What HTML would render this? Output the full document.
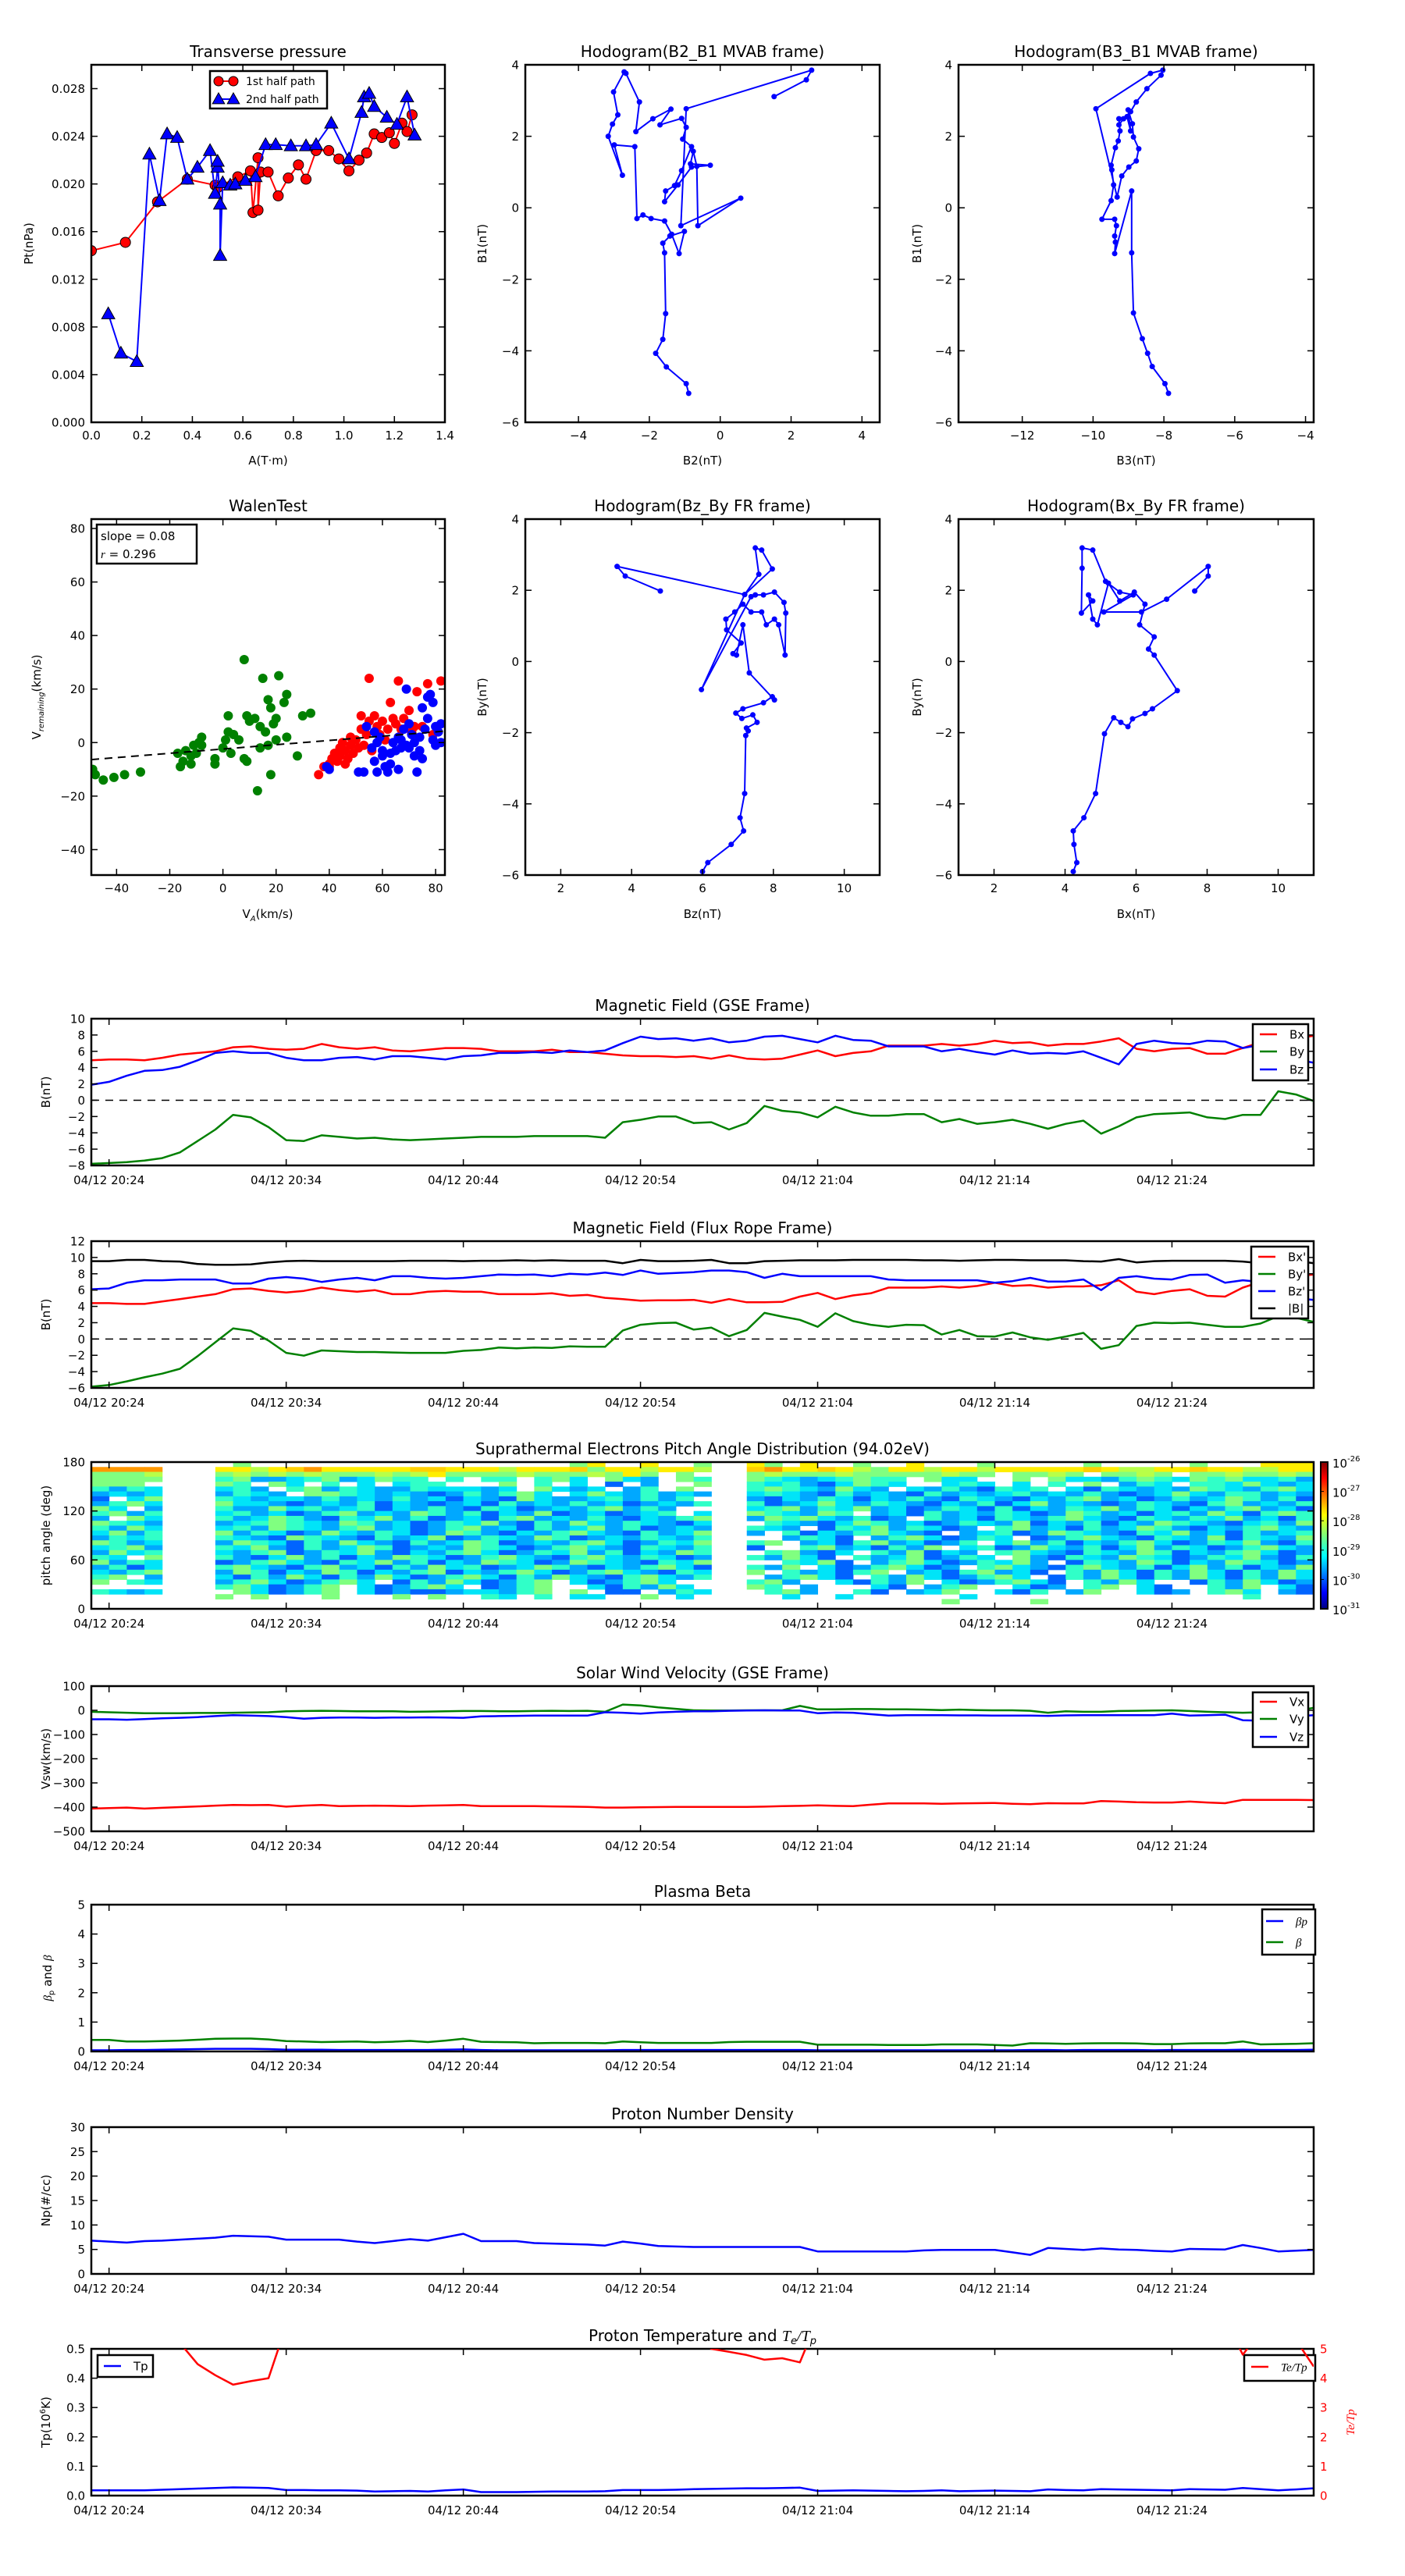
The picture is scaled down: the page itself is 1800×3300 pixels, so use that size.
<!DOCTYPE html>
<html><head><meta charset="utf-8">
<style>
html,body{margin:0;padding:0;background:#fff;}
svg{display:block;font-family:"DejaVu Sans","Liberation Sans",sans-serif;}
</style></head>
<body>
<svg id="chart" xmlns="http://www.w3.org/2000/svg" width="1800" height="3300" viewBox="0 0 1800 3300">
<defs>
<linearGradient id="jet" x1="0" y1="1" x2="0" y2="0">
<stop offset="0" stop-color="#00007f"/><stop offset="0.11" stop-color="#0000ff"/><stop offset="0.36" stop-color="#00ffff"/><stop offset="0.5" stop-color="#7dff7a"/><stop offset="0.64" stop-color="#ffff00"/><stop offset="0.89" stop-color="#ff0000"/><stop offset="1" stop-color="#7f0000"/>
</linearGradient>
</defs>
<rect x="0" y="0" width="1800" height="3300" fill="#fff"/>
</svg>
<script>
// ---------- data ----------
const presA1=[0,0.135,0.262,0.38,0.49,0.50,0.58,0.63,0.64,0.66,0.66,0.67,0.70,0.74,0.78,0.82,0.85,0.89,0.94,0.98,1.02,1.06,1.09,1.12,1.15,1.18,1.20,1.23,1.25,1.27];
const presP1=[0.0144,0.0151,0.0185,0.0204,0.0199,0.0197,0.0206,0.0211,0.0176,0.0222,0.0178,0.0210,0.0210,0.0190,0.0205,0.0216,0.0204,0.0228,0.0228,0.0221,0.0211,0.0220,0.0226,0.0242,0.0239,0.0243,0.0234,0.0251,0.0244,0.0258];
const presA2=[0.067,0.117,0.18,0.23,0.27,0.30,0.34,0.38,0.42,0.47,0.49,0.50,0.50,0.51,0.51,0.52,0.55,0.57,0.61,0.65,0.69,0.73,0.79,0.85,0.89,0.95,1.02,1.07,1.08,1.10,1.12,1.17,1.21,1.25,1.28];
const presP2=[0.0091,0.0058,0.0051,0.0225,0.0186,0.0242,0.0239,0.0204,0.0214,0.0228,0.0192,0.0214,0.0219,0.0183,0.0140,0.0201,0.0199,0.0200,0.0203,0.0206,0.0233,0.0233,0.0232,0.0232,0.0233,0.0251,0.0221,0.0260,0.0273,0.0276,0.0265,0.0256,0.0250,0.0273,0.0241];

const h1B2=[-0.89,-0.96,-1.52,-1.82,-1.62,-1.54,-1.57,-1.62,-1.42,-1.01,-1.16,-1.37,-1.57,-1.95,-2.18,-2.35,-2.41,-2.99,-2.76,-3.16,-3.04,-2.89,-3.01,-2.71,-2.66,-2.28,-2.38,-1.90,-1.39,-1.70,-1.09,-0.96,-1.06,-0.81,-1.09,-1.29,-1.54,-1.57,-1.19,-0.81,-0.28,-0.84,-0.76,-0.66,-0.63,0.58,-1.11,-0.96,2.58,2.43,1.52];
const h1B1=[-5.19,-4.92,-4.45,-4.07,-3.68,-2.96,-1.26,-0.99,-0.79,-0.66,-1.28,-0.74,-0.37,-0.30,-0.20,-0.30,1.71,1.76,0.91,2.0,2.34,2.6,3.24,3.80,3.76,2.96,2.13,2.49,2.76,2.32,2.50,2.25,1.92,1.71,1.04,0.62,0.47,0.17,0.64,1.14,1.19,1.23,1.58,1.16,-0.50,0.27,-0.50,2.77,3.85,3.58,3.11];
const h2B3=[-7.87,-7.97,-8.33,-8.46,-8.61,-8.86,-8.91,-8.91,-9.39,-9.37,-9.39,-9.34,-9.39,-9.75,-9.49,-9.42,-9.47,-9.49,-9.37,-9.29,-9.24,-9.27,-9.04,-8.94,-9.01,-8.89,-8.86,-8.71,-8.78,-8.99,-9.19,-9.32,-9.92,-8.38,-8.03,-8.08,-8.48,-8.78,-8.94,-9.14,-9.27];
const h2B1=[-5.19,-4.92,-4.44,-4.07,-3.66,-2.94,-1.26,0.47,-1.28,-0.96,-0.79,-0.50,-0.32,-0.32,0.2,0.64,1.06,1.19,1.68,1.87,2.15,2.49,2.55,2.15,2.74,2.35,1.98,1.65,1.31,1.14,0.89,0.3,2.77,3.76,3.85,3.71,3.33,2.96,2.69,2.49,2.32];
const h3Bz=[6.0,6.15,6.81,7.16,7.06,7.19,7.22,7.29,7.24,7.54,7.42,7.11,6.94,7.14,7.72,7.97,8.03,7.32,7.14,6.96,6.86,7.09,6.68,6.66,6.91,7.14,7.37,7.67,7.80,8.03,8.15,8.33,8.35,8.30,8.03,7.72,7.49,7.37,5.97,7.19,7.59,7.49,7.67,7.97,7.19,3.59,3.82,4.81];
const h3By=[-5.9,-5.65,-5.14,-4.76,-4.39,-3.71,-2.08,-1.95,-1.87,-1.71,-1.5,-1.6,-1.45,-1.33,-1.16,-0.99,-1.08,-0.32,1.03,0.18,0.22,0.52,0.89,1.19,1.39,1.61,1.39,1.39,1.03,1.19,1.03,0.18,1.36,1.66,1.95,1.87,1.87,1.82,-0.79,1.88,2.45,3.19,3.13,2.6,1.88,2.67,2.40,1.98];
const h4Bx=[4.23,4.33,4.25,4.23,4.53,4.86,5.11,5.37,5.57,5.77,5.90,6.25,6.46,7.16,6.51,6.35,6.51,6.10,6.25,5.95,5.54,5.22,4.91,4.78,4.66,4.78,4.46,4.48,4.48,4.78,5.14,5.54,5.92,5.09,6.15,6.86,8.03,8.03,7.65];
const h4By=[-5.9,-5.65,-5.14,-4.76,-4.39,-3.71,-2.03,-1.58,-1.71,-1.83,-1.61,-1.46,-1.33,-0.82,0.18,0.35,0.69,1.03,1.61,1.95,1.70,2.2,1.03,1.19,1.87,1.7,1.36,2.62,3.19,3.13,2.25,1.95,1.87,1.39,1.39,1.75,2.67,2.40,1.98];

const walGx=[-49,-48,-45,-41,-37,-31,-17,-16,-15,-14,-12,-12,-11,-10,-9,-8,-8,-3,-3,0,1,2,2,3,4,6,8,9,9,10,12,13,14,14,15,16,17,17,18,18,19,20,20,21,23,24,24,28,30,33,8];
const walGy=[-10,-12,-14,-13,-12,-11,-4,-9,-7,-3,-8,-5,-1,-4,0,2,-1,-6,-8,-2,1,4,10,-4,3,1,-6,10,-7,8,9,-18,-2,6,24,4,-1,16,13,-12,7,1,9,25,15,2,18,-5,10,11,31];
const walRx=[36,38,40,41,42,43,44,44,45,46,47,48,48,49,50,51,52,52,53,54,55,55,56,57,58,59,60,61,62,63,64,65,66,67,68,70,71,72,73,75,77,79,82,40,46];
const walRy=[-12,-9,-8,-6,-4,-7,-2,-5,0,-3,-6,-1,2,-4,1,-2,5,10,-1,3,8,24,-3,10,6,3,8,1,5,15,9,7,23,5,9,12,4,6,19,6,22,3,23,-9,-8];
const walBx=[39,40,51,53,54,56,57,58,58,59,60,61,62,63,64,65,66,67,68,69,69,70,71,72,73,74,75,75,76,77,77,78,79,79,80,80,81,82,82,57,60,63,67,70,74,66,72];
const walBy=[-9,-10,-11,-11,6,-2,-7,-11,0,2,-5,-9,-11,-4,0,-3,-10,1,5,-1,20,-2,3,0,-11,2,-6,13,5,9,17,18,1,15,6,-1,4,7,0,4,-3,-8,-2,7,-3,2,-5];
const walSlope=0.08, walIntercept=-2.4;

const tickMin=[1,11,21,31,41,51,61];
const tickLbl=['04/12 20:24','04/12 20:34','04/12 20:44','04/12 20:54','04/12 21:04','04/12 21:14','04/12 21:24'];

const gseBx=[4.9,5.0,5.0,4.9,5.2,5.6,5.8,6.0,6.5,6.6,6.3,6.2,6.3,6.9,6.5,6.3,6.5,6.1,6.0,6.2,6.4,6.4,6.3,6.0,6.0,6.0,6.2,5.9,5.9,5.7,5.5,5.4,5.4,5.3,5.4,5.1,5.5,5.1,5.0,5.1,5.6,6.1,5.4,5.8,6.0,6.7,6.7,6.7,6.9,6.7,6.9,7.3,7.0,7.1,6.7,6.9,6.9,7.2,7.6,6.3,6.0,6.3,6.4,5.7,5.7,6.4,7.1,7.5,7.6,7.9];
const gseBy=[-7.8,-7.7,-7.6,-7.4,-7.1,-6.4,-5.0,-3.6,-1.8,-2.1,-3.3,-4.9,-5.0,-4.3,-4.5,-4.7,-4.6,-4.8,-4.9,-4.8,-4.7,-4.6,-4.5,-4.5,-4.5,-4.4,-4.4,-4.4,-4.4,-4.6,-2.7,-2.4,-2.0,-2.0,-2.8,-2.7,-3.6,-2.8,-0.7,-1.3,-1.5,-2.1,-0.8,-1.5,-1.9,-1.9,-1.7,-1.7,-2.7,-2.3,-2.9,-2.7,-2.4,-2.9,-3.5,-2.9,-2.5,-4.1,-3.2,-2.1,-1.7,-1.6,-1.5,-2.1,-2.3,-1.8,-1.8,1.1,0.7,-0.1];
const gseBz=[1.9,2.25,3.0,3.6,3.7,4.1,4.9,5.8,6.0,5.8,5.8,5.2,4.9,4.9,5.2,5.3,5.0,5.4,5.4,5.2,5.0,5.4,5.5,5.8,5.8,5.9,5.8,6.1,5.9,6.1,7.0,7.8,7.5,7.6,7.3,7.6,7.1,7.3,7.8,7.9,7.5,7.1,7.9,7.4,7.3,6.6,6.6,6.6,6.0,6.3,5.9,5.6,6.1,5.7,5.8,5.7,6.0,5.2,4.4,6.9,7.3,7.0,6.9,7.3,7.2,6.4,6.8,6.5,5.0,4.6];

const frBx=[4.4,4.4,4.3,4.3,4.6,4.9,5.2,5.5,6.1,6.2,5.9,5.7,5.9,6.3,6.0,5.8,6.0,5.5,5.5,5.8,5.9,5.8,5.8,5.5,5.5,5.5,5.6,5.3,5.4,5.05,4.9,4.7,4.75,4.75,4.8,4.45,4.9,4.5,4.5,4.55,5.2,5.65,4.9,5.35,5.6,6.3,6.3,6.3,6.45,6.3,6.5,6.9,6.5,6.6,6.3,6.45,6.45,6.6,7.2,5.8,5.5,5.9,6.1,5.3,5.2,6.3,7.0,7.5,7.7,7.9];
const frBy=[-5.85,-5.65,-5.2,-4.7,-4.25,-3.65,-2.1,-0.4,1.3,1.0,-0.2,-1.7,-2.05,-1.4,-1.5,-1.6,-1.6,-1.65,-1.7,-1.7,-1.7,-1.45,-1.35,-1.05,-1.15,-1.05,-1.1,-0.9,-0.95,-0.95,1.05,1.75,1.95,2.0,1.15,1.4,0.35,1.1,3.2,2.75,2.35,1.5,3.15,2.2,1.75,1.5,1.75,1.7,0.55,1.1,0.35,0.3,0.8,0.2,-0.1,0.3,0.75,-1.2,-0.75,1.6,2.0,1.95,2.0,1.75,1.5,1.5,1.9,2.8,2.6,2.1];
const frBz=[6.1,6.2,6.9,7.2,7.2,7.3,7.3,7.3,6.8,6.8,7.4,7.6,7.4,7.0,7.3,7.5,7.2,7.7,7.7,7.5,7.4,7.5,7.7,7.9,7.85,7.9,7.7,8.0,7.9,8.15,7.85,8.4,8.0,8.1,8.2,8.4,8.4,8.2,7.5,8.0,7.7,7.7,7.7,7.7,7.7,7.3,7.2,7.2,7.2,7.2,7.2,6.9,7.1,7.5,7.05,7.05,7.3,6.0,7.5,7.7,7.4,7.3,7.85,7.9,6.9,7.2,7.0,6.5,5.0,4.8];
const frB=[9.55,9.55,9.7,9.7,9.55,9.5,9.2,9.1,9.1,9.15,9.4,9.55,9.6,9.55,9.55,9.55,9.55,9.55,9.6,9.6,9.6,9.55,9.6,9.6,9.65,9.6,9.65,9.6,9.6,9.6,9.3,9.7,9.55,9.55,9.6,9.7,9.3,9.3,9.55,9.6,9.65,9.65,9.65,9.7,9.7,9.7,9.7,9.65,9.65,9.6,9.65,9.7,9.7,9.65,9.65,9.65,9.55,9.5,9.8,9.4,9.55,9.6,9.6,9.6,9.6,9.5,9.3,9.8,9.6,9.3];

// pitch angle distribution: rows from 180 deg downward (6 deg each); segments A|B|C = cols 0-3 | 7-34 | 37-68
const padRows=[
"....|.g..................gy..y..g..|yg.y..g..y...g.....g.....g...yyy",
"oooo|yyGyYoyyyyyYYyyyGyyyYgyyGyyG|YoyyYyGgyyGyyGyyyyyYyGGyyYyyGGyy",
"gggG|gGgGgGgggGgGyggggGgggGgyg.g.|gGgggGgggggGgg.ggGg.ggGg.ggGggGg",
"gggg|tgddctgdcgtt.t.tt.tgc.gcd.gt|gtcdctgtt.gcc..g.gccdtgtcgtgcctd",
"ggg.|gt.gc.t.c.ctt...g.t.c.b.d..g|tctdbcgtc..ctc.c.t.g.dtc.ttcgcdc",
"tdtc|ctd.tgdtcddtcccdc.gcdc.dt.g.|tgtcdgcd.cdtdbtct.cbtcdcdgtcdtgc",
"dcdc|dtcd.ggtcdcdbdtdtgc.cgcdtdcd|ctcdbtdcdbtdcdctdcdtdbdcgcdttdcd",
"b.cg|tcdccdtdcdtdcbcdbgcddctdtdt.|dbcdtcbcdtdbtcdbcdtgdcbdtdcgtdtb",
"dtgc|gccdbdcdtbcdbdcbtdcdtdcbdcdt|tbdcgcdtcdbcdtbcgdcdbdtcdbtgdcdt",
"gc.d|tddgctdctbcdtdbtcbdcdtgdtd..|ctgdtcgdcbdtcbtbcdtcgdtcbcdtgdcb",
"tgdt|ctdcbdtgdcdgtdtbcdgbdcbdct.c|gtcdgt.dcbtdcdtcbdgtdcbctdgcbtgt",
"d.gc|tdcgtdbtcgdtbdcbtgdcdtdbcdtg|dgtgcdtbd.tdcbtcdtgcdbtcdtcgdcbt",
"gtcd|dctgtcdgtdcbdtcgdbtdgcdtcdbc|.tcdbcgtdcbdtcdgbcdtbcdgtcdbctdg",
"tdgc|ctdgtcdtgdcbdtgdcbtdcgdtbdcd|tcd.btcgdtcbd.tgdcbtdcgtdbcdtgcd",
"cgdt|gdtcbdgcdtcbdgtdbcdtgcdbtdcg|d.tbcdtgcdb.dctbdgtcdbtcgdcbtdct",
"dtct|tcdbgtcdbtdcgbdtcdgtbdcdtcdt|..dtcb.dtgcbdtc.bdtgcdbtcdgbtcdg",
"gtdc|dgtcbtdgcdbtdcgtbdcdtgcbdtcg|tg.dcbtgdcbdt.cgdtbcdtgcbdtcgdbt",
"ctgd|tcgdbtdcgtbdcdgtcbdtgcdbtcdt|b..tgdcbtdg.ctbdgcdtbcgdtcbdtgcd",
"dgct|cdtgbdtcgdbcdtgcbdtcgdtbcdgt|.tgdbc.tdgbcd.tgcdbtcdgtbcdtgcbd",
"tc.g|tdbcgdtbcdgtcbdtgcdbtgcdtcbd|tdgcb.tdcgbdtc.gdbtcdgtcbdtcgdbt",
"gdtc|bdtgcdbtcgdtbcdgtcbdgtcdbtcg|..tcgb.dtgcbdtcgd.btcdgtbcdgtcbd",
"dtbc|tgcdbtgdcbtdgctbdcgtdbcdtgcb|tdg.cbdtgcbd.tgcdbtgcdtbcgdtbcdg",
"cdtg|dgtbcdgtbcdtgbcdtgcbdtgcdbtc|g.tdcbtg.dcbtgdcb.tdgcbtdgcbtdgc",
"tg.d|cbtdgcbtdgcbdtgcbtdgcdbtgcdt|.dtgcb.tdgcbdtgc.btdgcbtdgcbtdgc",
"g.tc|dtgcbdtgc.btdgcbdtg.cbdtgc..|tgd..cbtdg.cbdtgcb.tdgc..btdgcbd",
"....|tgcbdtg.cbdtgc.bdtg..cbtdgc.|gt.d...cb.dtg..cbd.tg.cb..tdg.cb",
"tcdc|.gcbdtg.cbdbbdccdtg.g.bb.dtc|.tgd..tb.dcg..cbt.dg..cbd.tgc.db",
"....|g.g...g...g.g..tc.t.cc..g.c.|..c..c......c...............t...",
"....|............................|...........g....g...............",
"....|............................|................................"
];
const padColors={b:'#0064ff',d:'#00a8ff',c:'#00e4f8',t:'#30ffc8',g:'#80ff80',G:'#b8ff48',y:'#ffee00',Y:'#ffd000',o:'#ff9800'};
const cbLabels=['-26','-27','-28','-29','-30','-31'];

const swVx=[-406,-404,-402,-406,-403,-400,-397,-394,-391,-392,-391,-398,-394,-391,-396,-395,-394,-395,-396,-394,-393,-391,-396,-396,-396,-396,-397,-398,-399,-402,-402,-401,-400,-399,-399,-399,-399,-399,-398,-396,-395,-393,-395,-396,-390,-385,-385,-385,-386,-385,-384,-383,-386,-388,-384,-385,-385,-375,-377,-380,-381,-381,-377,-381,-384,-370,-370,-370,-370,-371];
const swVy=[-6,-8,-10,-12,-12,-12,-11,-11,-10,-9,-8,-4,-3,-2,-3,-4,-4,-4,-6,-5,-4,-3,-3,-4,-4,-3,-2,-3,-2,-6,24,20,12,6,0,-1,-1,0,0,0,18,4,4,5,5,4,4,3,1,3,1,0,0,-2,-10,-4,-6,-6,-3,-2,-1,0,-3,-6,-8,-10,-8,-6,-2,10];
const swVz=[-37,-37,-39,-36,-33,-31,-28,-24,-20,-22,-24,-28,-35,-31,-30,-30,-31,-30,-30,-29,-30,-31,-25,-24,-23,-22,-22,-22,-22,-8,-10,-14,-9,-6,-4,-4,-2,-1,0,-1,-1,-12,-9,-10,-16,-22,-20,-20,-20,-21,-21,-22,-22,-22,-23,-21,-20,-20,-20,-20,-20,-14,-22,-20,-18,-41,-43,-30,-25,-20];

const betaP=[0.04,0.04,0.05,0.05,0.06,0.07,0.08,0.09,0.09,0.09,0.08,0.06,0.06,0.06,0.05,0.05,0.05,0.05,0.05,0.05,0.06,0.07,0.05,0.04,0.04,0.04,0.04,0.04,0.04,0.04,0.05,0.05,0.05,0.05,0.05,0.05,0.05,0.05,0.05,0.05,0.05,0.04,0.04,0.04,0.04,0.04,0.04,0.04,0.04,0.04,0.04,0.04,0.04,0.05,0.05,0.04,0.05,0.05,0.05,0.05,0.04,0.05,0.05,0.05,0.05,0.06,0.05,0.05,0.05,0.06];
const betaT=[0.39,0.39,0.34,0.34,0.35,0.37,0.40,0.43,0.44,0.44,0.41,0.35,0.34,0.32,0.33,0.34,0.31,0.33,0.36,0.32,0.37,0.43,0.33,0.32,0.31,0.28,0.29,0.29,0.29,0.28,0.34,0.31,0.29,0.29,0.29,0.29,0.32,0.33,0.33,0.33,0.33,0.23,0.23,0.23,0.23,0.22,0.22,0.22,0.24,0.24,0.24,0.22,0.20,0.28,0.27,0.26,0.27,0.28,0.28,0.27,0.25,0.25,0.27,0.28,0.28,0.34,0.24,0.25,0.26,0.28];

const npVals=[6.8,6.6,6.4,6.7,6.8,7.0,7.2,7.4,7.8,7.7,7.6,7.0,7.0,7.0,7.0,6.6,6.3,6.7,7.1,6.8,7.5,8.2,6.7,6.7,6.7,6.3,6.2,6.1,6.0,5.8,6.6,6.2,5.7,5.6,5.5,5.5,5.5,5.5,5.5,5.5,5.5,4.6,4.6,4.6,4.6,4.6,4.6,4.8,4.9,4.9,4.9,4.9,4.4,3.9,5.3,5.1,4.9,5.2,5.0,4.9,4.7,4.6,5.1,5.05,5.0,5.9,5.3,4.6,4.75,4.9];

const tpVals=[0.018,0.018,0.018,0.018,0.020,0.022,0.024,0.026,0.028,0.027,0.026,0.019,0.019,0.018,0.018,0.017,0.014,0.015,0.016,0.014,0.018,0.021,0.012,0.012,0.012,0.013,0.014,0.014,0.014,0.015,0.019,0.019,0.019,0.020,0.022,0.023,0.024,0.025,0.025,0.026,0.027,0.016,0.017,0.018,0.017,0.016,0.015,0.016,0.018,0.015,0.016,0.017,0.016,0.015,0.021,0.019,0.018,0.022,0.021,0.020,0.019,0.018,0.022,0.021,0.020,0.026,0.022,0.018,0.021,0.025];
const teTp=[6.5,6.3,6.1,5.9,5.7,5.2,4.48,4.1,3.78,3.9,4.0,5.8,6,6,6,6,6,6,6,6,6,6,6,6,6,6,6,6,6,6,6,6,6,6,5.5,5.0,4.9,4.79,4.63,4.68,4.54,6,6,6,6,6,6,6,6,6,6,6,6,6,6,6,6,6,6,6,6,6,6,6,6,4.8,5.6,6,5.3,4.4];

// ---------- helpers ----------
const NS='http://www.w3.org/2000/svg';
const root=document.getElementById('chart');
let clipN=0;
function mk(tag,attrs,parent){const e=document.createElementNS(NS,tag);for(const k in attrs)e.setAttribute(k,attrs[k]);(parent||root).appendChild(e);return e;}
function txt(str,attrs,parent){const e=mk('text',attrs,parent);e.textContent=str;return e;}
function makeAxes(name,x0,x1,y0,y1,xmin,xmax,ymin,ymax){
  const g=mk('g',{});
  
  
  const id='clip'+(clipN++);
  const cp=mk('clipPath',{id:id},g);
  mk('rect',{x:x0,y:y0,width:x1-x0,height:y1-y0},cp);
  const plot=mk('g',{'clip-path':'url(#'+id+')'},g);
  
  
  return {g,plot,x0,x1,y0,y1,sx:v=>x0+(v-xmin)/(xmax-xmin)*(x1-x0),sy:v=>y1-(v-ymin)/(ymax-ymin)*(y1-y0)};
}
function frame(ax){
  const r=mk('rect',{x:ax.x0,y:ax.y0,width:ax.x1-ax.x0,height:ax.y1-ax.y0,fill:'none',stroke:'#000','stroke-width':2.5},ax.g);
  
  
}
function xTicks(ax,vals,labels,off){
  vals.forEach((v,i)=>{const x=ax.sx(v);
    mk('line',{x1:x,x2:x,y1:ax.y1,y2:ax.y1-8,stroke:'#000','stroke-width':1.5},ax.g);
    mk('line',{x1:x,x2:x,y1:ax.y0,y2:ax.y0+8,stroke:'#000','stroke-width':1.5},ax.g);
    const t=txt(labels[i],{x:x,y:ax.y1+(off||22),'text-anchor':'middle','font-size':15},ax.g);
    
    
  });
}
function yTicks(ax,vals,labels,noRight){
  vals.forEach((v,i)=>{const y=ax.sy(v);
    mk('line',{x1:ax.x0,x2:ax.x0+8,y1:y,y2:y,stroke:'#000','stroke-width':1.5},ax.g);
    if(!noRight)mk('line',{x1:ax.x1,x2:ax.x1-8,y1:y,y2:y,stroke:'#000','stroke-width':1.5},ax.g);
    const t=txt(labels[i],{x:ax.x0-8,y:y+5.5,'text-anchor':'end','font-size':15},ax.g);
    
    
  });
}
function title(ax,str){
  const t=txt(str,{x:(ax.x0+ax.x1)/2,y:ax.y0-10,'text-anchor':'middle','font-size':20},ax.g);
  
  
  return t;
}
function xlabel(ax,str,y){
  const t=txt(str,{x:(ax.x0+ax.x1)/2,y:y,'text-anchor':'middle','font-size':15},ax.g);
  
  
  return t;
}
function ylabel(ax,str,x){
  const cy=(ax.y0+ax.y1)/2;
  const t=txt(str,{x:x,y:cy,'text-anchor':'middle','font-size':15,transform:'rotate(-90 '+x+' '+cy+')'},ax.g);
  
  
  return t;
}
function series(ax,xs,ys,color,name,w){
  const n=Math.min(xs.length,ys.length);let d='';
  for(let i=0;i<n;i++)d+=(i?'L':'M')+ax.sx(xs[i]).toFixed(1)+' '+ax.sy(ys[i]).toFixed(1);
  const p=mk('path',{d:d,fill:'none',stroke:color,'stroke-width':w||2.5,'stroke-linejoin':'round'},ax.plot);
  
  
  return p;
}
function dots(ax,xs,ys,color,r,name,stroke){
  const n=Math.min(xs.length,ys.length);
  for(let i=0;i<n;i++){
    const c=mk('circle',{cx:ax.sx(xs[i]),cy:ax.sy(ys[i]),r:r,fill:color,stroke:stroke||'none','stroke-width':1},ax.plot);
    
    
  }
}
function tri(x,y,s,parent){
  return mk('path',{d:`M${x} ${y-s*0.62}L${x+s*0.6} ${y+s*0.45}L${x-s*0.6} ${y+s*0.45}Z`,fill:'#0000ff',stroke:'#000','stroke-width':1},parent);
}
function legendBox(parentAx,x,y,w,h){
  const r=mk('rect',{x:x,y:y,width:w,height:h,fill:'#fff',stroke:'#000','stroke-width':2.5},parentAx.g);
  
  
}
function legendEntry(ax,x,y,color,label,italic){
  const g=mk('g',{},ax.g);
  
  
  mk('line',{x1:x,x2:x+22,y1:y,y2:y,stroke:color,'stroke-width':2.5},g);
  const t=txt(label,{x:x+38,y:y+5.5,'font-size':15},g);
  if(italic){t.setAttribute('font-family','"Liberation Serif",serif');t.setAttribute('font-style','italic');}
  return g;
}
function hline(ax,v){
  const l=mk('line',{x1:ax.x0,x2:ax.x1,y1:ax.sy(v),y2:ax.sy(v),stroke:'#000','stroke-width':1.5,'stroke-dasharray':'10 8'},ax.plot);
  
  
}
const range=(a,b,s)=>{const r=[];for(let v=a;v<=b+1e-9;v+=s)r.push(+v.toFixed(6));return r;};
const tIdx=gseBx.map((_,i)=>i);

// ---------- transverse pressure ----------
{
 const ax=makeAxes('transverse-pressure-chart',117,570,83,541,0,1.4,0,0.030);
 series(ax,presA1,presP1,'#ff0000','first-half-path-line',2);
 dots(ax,presA1,presP1,'#ff0000',6.5,'first-half-point','#000');
 series(ax,presA2,presP2,'#0000ff','second-half-path-line',2);
 for(let i=0;i<presA2.length;i++){const t=tri(ax.sx(presA2[i]),ax.sy(presP2[i]),14,ax.plot);
   
   }
 frame(ax);
 const xv=range(0,1.4,0.2);xTicks(ax,xv,xv.map(v=>v.toFixed(1)));
 const yv=range(0,0.028,0.004);yTicks(ax,yv,yv.map(v=>v.toFixed(3)));
 title(ax,'Transverse pressure');xlabel(ax,'A(T·m)',595);ylabel(ax,'Pt(nPa)',42);
 legendBox(ax,269,91,150,48);
 const l1=mk('g',{},ax.g);
 
 
 mk('line',{x1:280,x2:300,y1:104,y2:104,stroke:'#ff0000','stroke-width':2},l1);
 mk('circle',{cx:280,cy:104,r:6,fill:'#ff0000',stroke:'#000'},l1);mk('circle',{cx:299,cy:104,r:6,fill:'#ff0000',stroke:'#000'},l1);
 txt('1st half path',{x:315,y:109,'font-size':14},l1);
 const l2=mk('g',{},ax.g);
 
 
 mk('line',{x1:280,x2:300,y1:127,y2:127,stroke:'#0000ff','stroke-width':2},l2);
 tri(280,127,13,l2);tri(299,127,13,l2);
 txt('2nd half path',{x:315,y:132,'font-size':14},l2);
}
// ---------- hodograms ----------
function hodo(name,x0,x1,y0,y1,xmin,xmax,ymin,ymax,xs,ys,xt,yt,ttl,xl,yl,ylx,xly){
 const ax=makeAxes(name,x0,x1,y0,y1,xmin,xmax,ymin,ymax);
 series(ax,xs,ys,'#0000ff',name+'-path',2);
 dots(ax,xs,ys,'#0000ff',3.5,name+'-point');
 frame(ax);
 xTicks(ax,xt,xt.map(v=>v<0?'\u2212'+(-v):''+v));
 yTicks(ax,yt,yt.map(v=>v<0?'\u2212'+(-v):''+v));
 title(ax,ttl);xlabel(ax,xl,xly);ylabel(ax,yl,ylx);
}
hodo('hodogram-b2-b1',673,1127,83,541,-5.5,4.5,-6,4,h1B2,h1B1,[-4,-2,0,2,4],[-6,-4,-2,0,2,4],'Hodogram(B2_B1 MVAB frame)','B2(nT)','B1(nT)',623,595);
hodo('hodogram-b3-b1',1228,1683,83,541,-13.8,-3.77,-6,4,h2B3,h2B1,[-12,-10,-8,-6,-4],[-6,-4,-2,0,2,4],'Hodogram(B3_B1 MVAB frame)','B3(nT)','B1(nT)',1180,595);
hodo('hodogram-bz-by',673,1127,665,1121,1,11,-6,4,h3Bz,h3By,[2,4,6,8,10],[-6,-4,-2,0,2,4],'Hodogram(Bz_By FR frame)','Bz(nT)','By(nT)',623,1176);
hodo('hodogram-bx-by',1228,1683,665,1121,1,11,-6,4,h4Bx,h4By,[2,4,6,8,10],[-6,-4,-2,0,2,4],'Hodogram(Bx_By FR frame)','Bx(nT)','By(nT)',1180,1176);
// ---------- Walen test ----------
{
 const ax=makeAxes('walen-test-chart',117,570,665,1121,-49.5,83.5,-49.5,83.5);
 dots(ax,walGx,walGy,'#008000',6,'walen-green-point');
 dots(ax,walRx,walRy,'#ff0000',6,'walen-red-point');
 dots(ax,walBx,walBy,'#0000ff',6,'walen-blue-point');
 const fx=[-49.5,83.5];const fy=fx.map(v=>walSlope*v+walIntercept);
 const f=series(ax,fx,fy,'#000','walen-fit-line',2);f.setAttribute('stroke-dasharray','10 7');
 frame(ax);
 const v=[-40,-20,0,20,40,60,80];
 xTicks(ax,v,v.map(a=>a<0?'\u2212'+(-a):''+a));yTicks(ax,v,v.map(a=>a<0?'\u2212'+(-a):''+a));
 title(ax,'WalenTest');
 const xl=mk('text',{x:343,y:1176,'text-anchor':'middle','font-size':15},ax.g);
 
 
 xl.innerHTML='V<tspan font-size="10" dy="4" font-style="italic">A</tspan><tspan dy="-4">(km/s)</tspan>';
 const yl=mk('text',{x:52,y:893,'text-anchor':'middle','font-size':15,transform:'rotate(-90 52 893)'},ax.g);
 
 
 yl.innerHTML='V<tspan font-size="10" dy="4" font-style="italic">remaining</tspan><tspan dy="-4">(km/s)</tspan>';
 legendBox(ax,124,672,128,50);
 const s1=txt('slope = 0.08',{x:129,y:692,'font-size':15},ax.g);
 
 
 const s2=mk('text',{x:129,y:715,'font-size':15},ax.g);
 
 
 s2.innerHTML='<tspan font-style="italic" font-family="Liberation Serif,serif">r</tspan> = 0.296';
}
// ---------- time series ----------
function timeAxes(name,y0,y1,ymin,ymax,yt,ttl,yl,fmt){
 const ax=makeAxes(name,117,1683,y0,y1,0,69,ymin,ymax);
 ax.post=()=>{frame(ax);xTicks(ax,tickMin,tickLbl,24);yTicks(ax,yt,yt.map(fmt||(v=>v<0?'\u2212'+(-v):''+v)));title(ax,ttl);if(yl)ylabel(ax,yl,64);};
 return ax;
}
{
 const ax=timeAxes('gse-magnetic-field-chart',1305,1493,-8,10,range(-8,10,2),'Magnetic Field (GSE Frame)','B(nT)');
 hline(ax,0);
 series(ax,tIdx,gseBx,'#ff0000','bx-line');series(ax,tIdx,gseBy,'#008000','by-line');series(ax,tIdx,gseBz,'#0000ff','bz-line');
 ax.post();
 legendBox(ax,1605,1312,71,72);
 legendEntry(ax,1614,1325,'#ff0000','Bx');legendEntry(ax,1614,1347,'#008000','By');legendEntry(ax,1614,1370,'#0000ff','Bz');
}
{
 const ax=timeAxes('flux-rope-magnetic-field-chart',1590,1778,-6,12,range(-6,12,2),'Magnetic Field (Flux Rope Frame)','B(nT)');
 hline(ax,0);
 series(ax,tIdx,frBx,'#ff0000','bx-prime-line');series(ax,tIdx,frBy,'#008000','by-prime-line');series(ax,tIdx,frBz,'#0000ff','bz-prime-line');series(ax,tIdx,frB,'#000000','b-magnitude-line');
 ax.post();
 legendBox(ax,1603,1597,73,92);
 legendEntry(ax,1612,1610,'#ff0000',"Bx'");legendEntry(ax,1612,1632,'#008000',"By'");legendEntry(ax,1612,1654,'#0000ff',"Bz'");legendEntry(ax,1612,1676,'#000000','|B|');
}
{
 const ax=timeAxes('pitch-angle-distribution-chart',1873,2061,0,180,[0,60,120,180],'Suprathermal Electrons Pitch Angle Distribution (94.02eV)','pitch angle (deg)');
 padRows.forEach((row,ri)=>{
   const seg=row.split('|');
   const full=seg[0].padEnd(4,'.').slice(0,4)+'...'+seg[1].padEnd(28,'.').slice(0,28)+'..'+seg[2].padEnd(32,'.').slice(0,32);
   for(let c=0;c<full.length;c++){const k=full[c];if(!padColors[k])continue;
     const hi=180-6*ri,lo=hi-6;
     const r=mk('rect',{x:ax.sx(c),y:ax.sy(hi),width:ax.sx(c+1)-ax.sx(c)+0.5,height:ax.sy(lo)-ax.sy(hi)+0.5,fill:padColors[k]},ax.plot);
     
     
   }
 });
 ax.post();
 const cb=mk('rect',{x:1692,y:1873,width:9,height:188,fill:'url(#jet)',stroke:'#000','stroke-width':2},ax.g);
 
 
 cbLabels.forEach((e,i)=>{const y=1873+i*188/5;
   const t=mk('text',{x:1707,y:y+7,'font-size':15},ax.g);
   
   
   t.innerHTML='10<tspan font-size="10" dy="-8">'+e+'</tspan>';
   mk('line',{x1:1692,x2:1696,y1:y,y2:y,stroke:'#000'},ax.g);
 });
}
{
 const ax=timeAxes('solar-wind-velocity-chart',2160,2346,-500,100,range(-500,100,100),'Solar Wind Velocity (GSE Frame)','Vsw(km/s)');
 series(ax,tIdx,swVx,'#ff0000','vx-line');series(ax,tIdx,swVy,'#008000','vy-line');series(ax,tIdx,swVz,'#0000ff','vz-line');
 ax.post();
 legendBox(ax,1605,2168,71,70);
 legendEntry(ax,1614,2180,'#ff0000','Vx');legendEntry(ax,1614,2202,'#008000','Vy');legendEntry(ax,1614,2225,'#0000ff','Vz');
}
{
 const ax=timeAxes('plasma-beta-chart',2440,2628,0,5,range(0,5,1),'Plasma Beta',null);
 series(ax,tIdx,betaP,'#0000ff','beta-p-line');series(ax,tIdx,betaT,'#008000','beta-line');
 ax.post();
 const yl=mk('text',{x:66,y:2534,'text-anchor':'middle','font-size':15,transform:'rotate(-90 66 2534)'},ax.g);
 
 
 yl.innerHTML='<tspan font-style="italic" font-family="Liberation Serif,serif">β</tspan><tspan font-size="10" dy="3">p</tspan><tspan dy="-3"> and </tspan><tspan font-style="italic" font-family="Liberation Serif,serif">β</tspan>';
 legendBox(ax,1617,2446,68,58);
 legendEntry(ax,1622,2461,'#0000ff','βp',true);legendEntry(ax,1622,2488,'#008000','β',true);
}
{
 const ax=timeAxes('proton-density-chart',2725,2913,0,30,range(0,30,5),'Proton Number Density','Np(#/cc)');
 series(ax,tIdx,npVals,'#0000ff','np-line');
 ax.post();
}
{
 const ax=makeAxes('proton-temperature-chart',117,1683,3009,3197,0,69,0,0.5);
 const ax2=makeAxes('te-tp-axis',117,1683,3009,3197,0,69,0,5);
 series(ax,tIdx,tpVals,'#0000ff','tp-line');
 series(ax2,tIdx,teTp,'#ff0000','te-tp-line');
 frame(ax);xTicks(ax,tickMin,tickLbl,24);
 const yv=range(0,0.5,0.1);yTicks(ax,yv,yv.map(v=>v.toFixed(1)),true);
 [0,1,2,3,4,5].forEach(v=>{const y=ax2.sy(v);
   mk('line',{x1:1683,x2:1675,y1:y,y2:y,stroke:'#000','stroke-width':1.5},ax.g);
   const t=txt(''+v,{x:1691,y:y+5.5,'font-size':15,fill:'#ff0000'},ax.g);
   
   
 });
 const tt=mk('text',{x:900,y:2999,'text-anchor':'middle','font-size':20},ax.g);
 
 
 tt.innerHTML='Proton Temperature and <tspan font-style="italic" font-family="Liberation Serif,serif">T</tspan><tspan font-size="13" dy="4" font-style="italic">e</tspan><tspan dy="-4" font-style="italic" font-family="Liberation Serif,serif">/T</tspan><tspan font-size="13" dy="4" font-style="italic">p</tspan>';
 const yl=mk('text',{x:64,y:3103,'text-anchor':'middle','font-size':15,transform:'rotate(-90 64 3103)'},ax.g);
 
 
 yl.innerHTML='Tp(10<tspan font-size="10" dy="-6">6</tspan><tspan dy="6">K)</tspan>';
 const yr=mk('text',{x:1735,y:3103,'text-anchor':'middle','font-size':15,fill:'#ff0000','font-style':'italic','font-family':'Liberation Serif,serif',transform:'rotate(-90 1735 3103)'},ax.g);
 
 
 yr.textContent='Te/Tp';
 legendBox(ax,125,3017,71,28);
 legendEntry(ax,133,3031,'#0000ff','Tp');
 legendBox(ax,1594,3017,91,33);
 legendEntry(ax,1603,3032,'#ff0000','Te/Tp',true);
}
</script>
</body></html>
